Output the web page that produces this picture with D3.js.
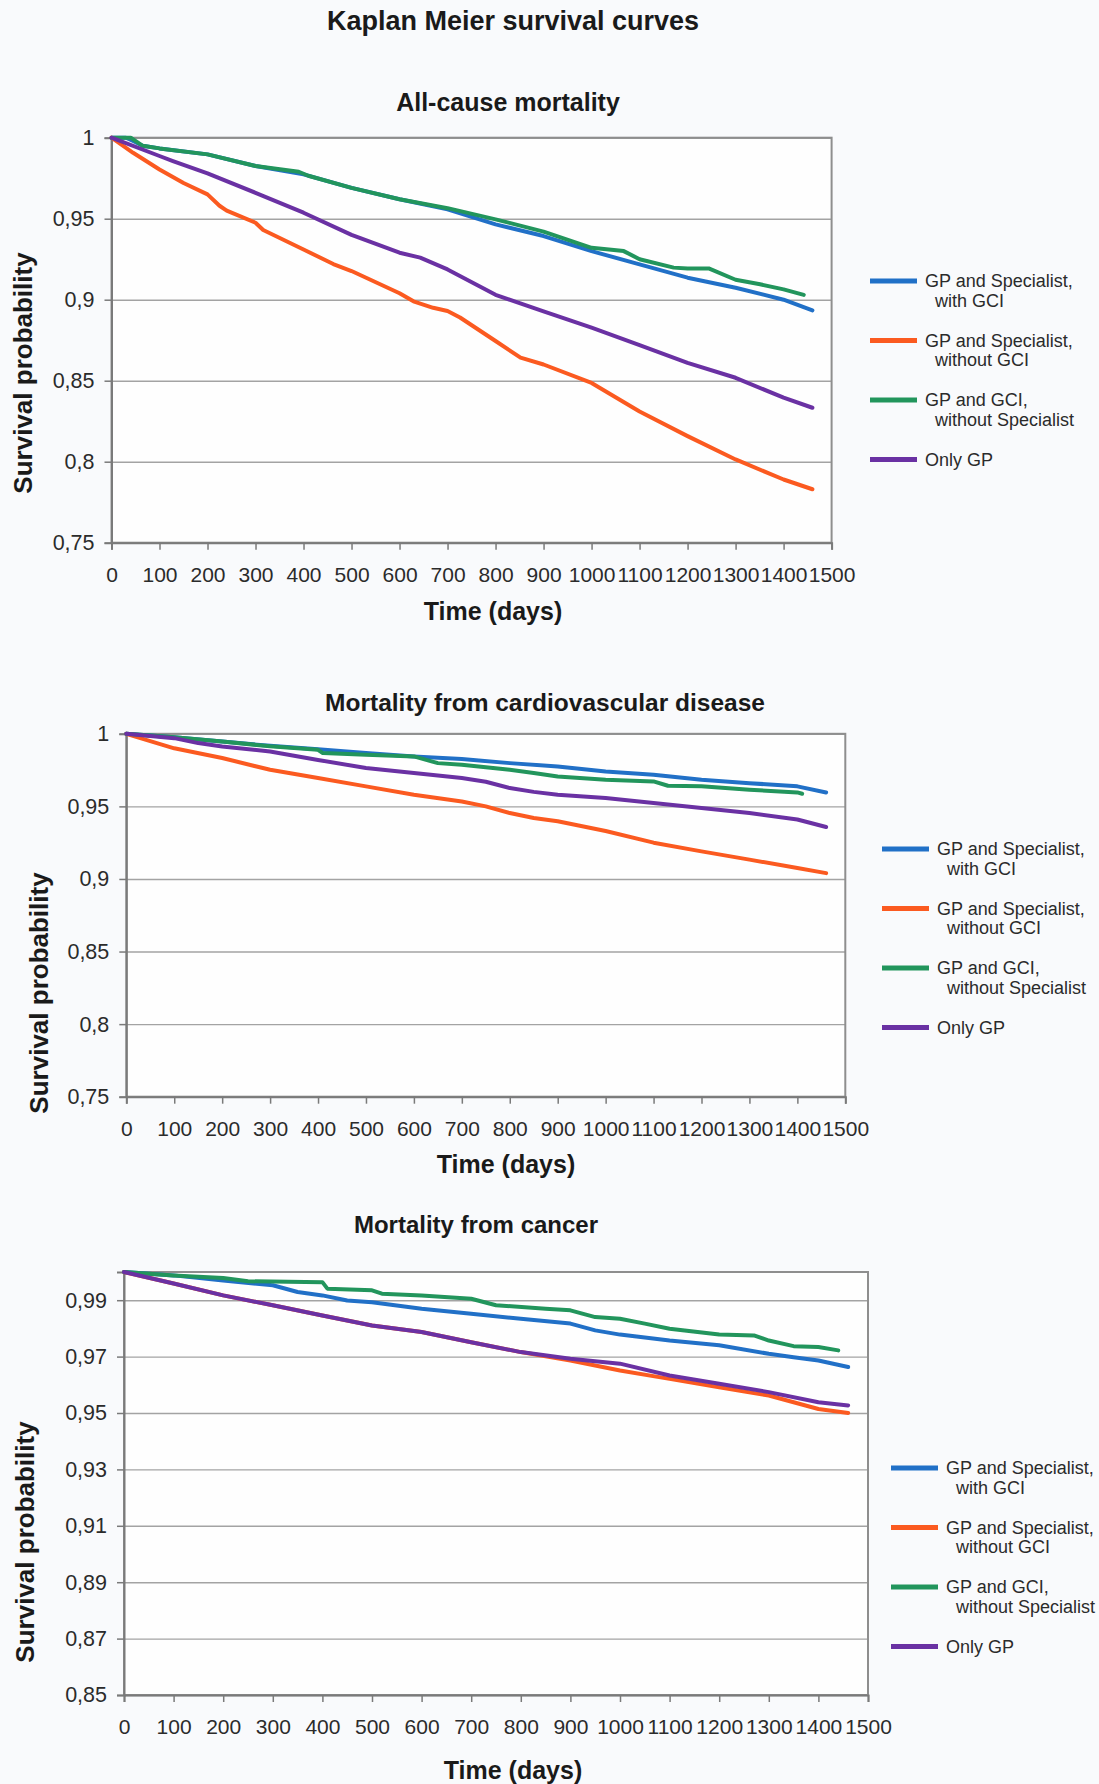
<!DOCTYPE html>
<html>
<head>
<meta charset="utf-8">
<script src="https://cdn.jsdelivr.net/npm/d3@7"></script>
<style>
  body { margin: 0; background: #f9fafc; }
  svg { display: block; }
  text { font-family: "Liberation Sans", Arial, sans-serif; fill: #2b2b2b; }
</style>
</head>
<body>
<svg id="chart" width="1099" height="1784"></svg>
<script>
// ---- data ----
var legendLabels = [["GP and Specialist,", "with GCI"], ["GP and Specialist,", "without GCI"],
                    ["GP and GCI,", "without Specialist"], ["Only GP"]];
var seriesColors = ["#2170c7", "#fb5a20", "#22955c", "#6a31a3"];
var xTicks = [0, 100, 200, 300, 400, 500, 600, 700, 800, 900, 1000, 1100, 1200, 1300, 1400, 1500];
var allCauseYTicks = [0.75, 0.8, 0.85, 0.9, 0.95, 1];
var cvdYTicks = [0.75, 0.8, 0.85, 0.9, 0.95, 1];
var cancerYTicks = [0.85, 0.87, 0.89, 0.91, 0.93, 0.95, 0.97, 0.99];

// all-cause mortality
var allBlueDays = [0, 30, 45, 65, 100, 200, 300, 400, 500, 600, 700, 800, 900, 1000, 1100, 1200, 1300, 1400, 1460];
var allBlueVals = [1, 1, 0.998, 0.995, 0.9934, 0.9897, 0.9825, 0.9774, 0.969, 0.962, 0.9558, 0.9465, 0.9393, 0.930, 0.9218, 0.9136, 0.9074, 0.900, 0.8934];
var allOrangeDays = [0, 45, 100, 150, 200, 225, 240, 300, 316, 400, 462, 500, 600, 629, 670, 700, 726, 800, 852, 900, 1000, 1100, 1200, 1300, 1400, 1460];
var allOrangeVals = [1, 0.9907, 0.9804, 0.972, 0.965, 0.958, 0.955, 0.9475, 0.943, 0.931, 0.922, 0.9177, 0.904, 0.899, 0.895, 0.893, 0.889, 0.8745, 0.8642, 0.860, 0.8486, 0.831, 0.8158, 0.8014, 0.789, 0.783];
var allGreenDays = [0, 40, 65, 100, 200, 300, 390, 410, 500, 600, 700, 800, 900, 1000, 1067, 1100, 1171, 1200, 1244, 1300, 1351, 1400, 1442];
var allGreenVals = [1, 1, 0.995, 0.9934, 0.9897, 0.9825, 0.979, 0.9765, 0.969, 0.962, 0.9565, 0.9496, 0.942, 0.932, 0.930, 0.925, 0.9198, 0.9193, 0.9193, 0.9123, 0.9095, 0.9064, 0.903];
var allPurpleDays = [0, 100, 128, 200, 300, 400, 500, 600, 643, 700, 800, 900, 1000, 1100, 1200, 1300, 1400, 1460];
var allPurpleVals = [1, 0.9887, 0.9856, 0.978, 0.966, 0.9537, 0.940, 0.929, 0.926, 0.9187, 0.903, 0.8928, 0.8827, 0.872, 0.861, 0.8518, 0.8395, 0.8333];

// cardiovascular disease
var cvdBlueDays = [0, 100, 200, 300, 400, 500, 600, 700, 800, 900, 1000, 1100, 1200, 1300, 1400, 1460];
var cvdBlueVals = [1, 0.9977, 0.9947, 0.9917, 0.9894, 0.9867, 0.9844, 0.9826, 0.9798, 0.9775, 0.974, 0.9718, 0.9683, 0.966, 0.9638, 0.9596];
var cvdOrangeDays = [0, 100, 200, 300, 400, 500, 600, 700, 750, 800, 850, 900, 1000, 1100, 1200, 1300, 1400, 1460];
var cvdOrangeVals = [1, 0.990, 0.9833, 0.9752, 0.9695, 0.9638, 0.958, 0.9534, 0.950, 0.9454, 0.942, 0.9397, 0.933, 0.925, 0.919, 0.9133, 0.9076, 0.904];
var cvdGreenDays = [0, 100, 200, 300, 400, 410, 500, 600, 650, 700, 800, 850, 900, 1000, 1100, 1130, 1200, 1300, 1400, 1410];
var cvdGreenVals = [1, 0.9977, 0.9947, 0.9914, 0.989, 0.9867, 0.9855, 0.9844, 0.9798, 0.9787, 0.9752, 0.973, 0.9706, 0.9683, 0.9672, 0.9642, 0.9638, 0.9615, 0.9596, 0.9587];
var cvdPurpleDays = [0, 100, 150, 200, 300, 400, 500, 600, 700, 750, 800, 850, 900, 1000, 1100, 1200, 1300, 1400, 1460];
var cvdPurpleVals = [1, 0.997, 0.9936, 0.9913, 0.9878, 0.982, 0.9764, 0.973, 0.9695, 0.967, 0.9626, 0.960, 0.958, 0.9557, 0.9523, 0.9489, 0.9454, 0.941, 0.9358];

// cancer
var canBlueDays = [0, 100, 200, 300, 350, 400, 450, 500, 600, 700, 800, 900, 950, 1000, 1100, 1200, 1300, 1350, 1400, 1460];
var canBlueVals = [1, 0.9988, 0.997, 0.9953, 0.9929, 0.9917, 0.9899, 0.9893, 0.987, 0.9852, 0.9834, 0.9817, 0.9793, 0.9778, 0.9757, 0.974, 0.971, 0.9698, 0.9686, 0.9663];
var canOrangeDays = [0, 100, 200, 300, 400, 500, 600, 700, 800, 900, 1000, 1100, 1200, 1300, 1400, 1460];
var canOrangeVals = [1, 0.9959, 0.9917, 0.9882, 0.9846, 0.981, 0.9787, 0.9751, 0.9716, 0.9686, 0.9651, 0.9621, 0.9591, 0.9562, 0.9514, 0.950];
var canGreenDays = [0, 100, 200, 250, 400, 410, 500, 520, 600, 700, 750, 850, 900, 950, 1000, 1050, 1100, 1200, 1270, 1300, 1350, 1400, 1440];
var canGreenVals = [1, 0.9988, 0.9979, 0.9967, 0.9964, 0.9941, 0.9935, 0.9923, 0.9917, 0.9905, 0.9882, 0.987, 0.9864, 0.984, 0.9834, 0.9817, 0.9799, 0.9778, 0.9775, 0.9757, 0.9737, 0.9734, 0.9722];
var canPurpleDays = [0, 100, 200, 300, 400, 500, 600, 700, 800, 900, 1000, 1100, 1200, 1300, 1400, 1460];
var canPurpleVals = [1, 0.9959, 0.9917, 0.9882, 0.9846, 0.981, 0.9787, 0.9751, 0.9716, 0.9692, 0.9675, 0.9633, 0.9604, 0.9574, 0.9538, 0.9527];

function zip(days, vals) {
    return days.map(function (d, i) { return [d, vals[i]]; });
}

// ---- layout ----
var panels = [
    { title: "All-cause mortality", titleX: 508, titleY: 102, titleSize: 25,
      x0: 111.5, x1: 831.6, y0: 137.7, y1: 542.7, yMin: 0.75, yTicks: allCauseYTicks,
      yTitleX: 23, yTitleY: 373, xTitleX: 493, xTitleY: 611, legX: 870, legY: 281,
      series: [zip(allBlueDays, allBlueVals), zip(allOrangeDays, allOrangeVals), zip(allGreenDays, allGreenVals), zip(allPurpleDays, allPurpleVals)] },
    { title: "Mortality from cardiovascular disease", titleX: 545, titleY: 702, titleSize: 24.5,
      x0: 126.3, x1: 845.3, y0: 733.8, y1: 1096.7, yMin: 0.75, yTicks: cvdYTicks,
      yTitleX: 39, yTitleY: 993, xTitleX: 506, xTitleY: 1164, legX: 882, legY: 849,
      series: [zip(cvdBlueDays, cvdBlueVals), zip(cvdOrangeDays, cvdOrangeVals), zip(cvdGreenDays, cvdGreenVals), zip(cvdPurpleDays, cvdPurpleVals)] },
    { title: "Mortality from cancer", titleX: 476, titleY: 1224, titleSize: 24,
      x0: 124, x1: 868, y0: 1272, y1: 1695, yMin: 0.85, yTicks: cancerYTicks,
      yTitleX: 25, yTitleY: 1542, xTitleX: 513, xTitleY: 1770, legX: 891, legY: 1468,
      series: [zip(canBlueDays, canBlueVals), zip(canOrangeDays, canOrangeVals), zip(canGreenDays, canGreenVals), zip(canPurpleDays, canPurpleVals)] }
];

var svg = d3.select("#chart");

svg.append("text")
    .attr("x", 513).attr("y", 21)
    .attr("text-anchor", "middle").attr("dominant-baseline", "central")
    .style("font-size", "27px").style("font-weight", "bold").style("fill", "#1a1a1a")
    .text("Kaplan Meier survival curves");

function fmt(d) {
    return String(+d.toFixed(2)).replace(".", ",");
}

panels.forEach(function (p) {
    var x = d3.scaleLinear().domain([0, 1500]).range([p.x0, p.x1]);
    var y = d3.scaleLinear().domain([p.yMin, 1]).range([p.y1, p.y0]);
    var g = svg.append("g");

    g.append("rect")
        .attr("x", p.x0).attr("y", p.y0)
        .attr("width", p.x1 - p.x0).attr("height", p.y1 - p.y0)
        .attr("fill", "#fefefe");

    // grid
    g.append("g")
        .attr("transform", "translate(" + p.x0 + ",0)")
        .call(d3.axisLeft(y).tickValues(p.yTicks).tickSize(-(p.x1 - p.x0)).tickFormat(""))
        .call(function (a) {
            a.select(".domain").remove();
            a.selectAll("line").attr("stroke", "#a3a3a3").attr("stroke-width", 1.4);
        });

    // frame
    g.append("rect")
        .attr("x", p.x0).attr("y", p.y0)
        .attr("width", p.x1 - p.x0).attr("height", p.y1 - p.y0)
        .attr("fill", "none").attr("stroke", "#8e8e8e").attr("stroke-width", 2);

    // x axis
    g.append("g")
        .attr("transform", "translate(0," + p.y1 + ")")
        .call(d3.axisBottom(x).tickValues(xTicks).tickSize(7).tickPadding(17).tickFormat(d3.format("d")))
        .call(function (a) {
            a.select(".domain").attr("stroke", "#7a7a7a").attr("stroke-width", 2);
            a.selectAll("line").attr("stroke", "#7a7a7a").attr("stroke-width", 1.5);
            a.selectAll("text").style("font-size", "21px").style("font-family", "\"Liberation Sans\", Arial, sans-serif").attr("fill", "#2b2b2b");
        });

    // y axis
    g.append("g")
        .attr("transform", "translate(" + p.x0 + ",0)")
        .call(d3.axisLeft(y).tickValues(p.yTicks).tickSize(7).tickPadding(10).tickFormat(fmt))
        .call(function (a) {
            a.select(".domain").attr("stroke", "#7a7a7a").attr("stroke-width", 2);
            a.selectAll("line").attr("stroke", "#7a7a7a").attr("stroke-width", 1.5);
            a.selectAll("text").style("font-size", "21.5px").style("font-family", "\"Liberation Sans\", Arial, sans-serif").attr("fill", "#2b2b2b");
        });

    // curves
    var line = d3.line()
        .x(function (d) { return x(d[0]); })
        .y(function (d) { return y(d[1]); });
    g.selectAll(".curve")
        .data(p.series)
        .enter().append("path")
        .attr("class", "curve")
        .attr("d", line)
        .attr("fill", "none")
        .attr("stroke", function (d, i) { return seriesColors[i]; })
        .attr("stroke-width", 4)
        .attr("stroke-linejoin", "round")
        .attr("stroke-linecap", "round");

    // titles
    g.append("text")
        .attr("x", p.titleX).attr("y", p.titleY)
        .attr("text-anchor", "middle").attr("dominant-baseline", "central")
        .style("font-size", p.titleSize + "px").style("font-weight", "bold").style("fill", "#1a1a1a")
        .text(p.title);

    g.append("text")
        .attr("x", p.xTitleX).attr("y", p.xTitleY)
        .attr("text-anchor", "middle").attr("dominant-baseline", "central")
        .style("font-size", "25px").style("font-weight", "bold").style("fill", "#1a1a1a")
        .text("Time (days)");

    g.append("text")
        .attr("transform", "translate(" + p.yTitleX + "," + p.yTitleY + ") rotate(-90)")
        .attr("text-anchor", "middle").attr("dominant-baseline", "central")
        .style("font-size", "26px").style("font-weight", "bold").style("fill", "#1a1a1a")
        .text("Survival probability");

    // legend
    var leg = g.selectAll(".leg")
        .data(legendLabels)
        .enter().append("g")
        .attr("transform", function (d, i) { return "translate(" + p.legX + "," + (p.legY + i * 59.5) + ")"; });
    leg.append("line")
        .attr("x1", 0).attr("x2", 47).attr("y1", 0).attr("y2", 0)
        .attr("stroke", function (d, i) { return seriesColors[i]; })
        .attr("stroke-width", 5);
    leg.each(function (d) {
        var t = d3.select(this);
        d.forEach(function (s, k) {
            t.append("text")
                .attr("x", k === 0 ? 55 : 65).attr("y", k * 19.5)
                .attr("dominant-baseline", "central")
                .style("font-size", "18px")
                .text(s);
        });
    });
});
</script>
</body>
</html>
